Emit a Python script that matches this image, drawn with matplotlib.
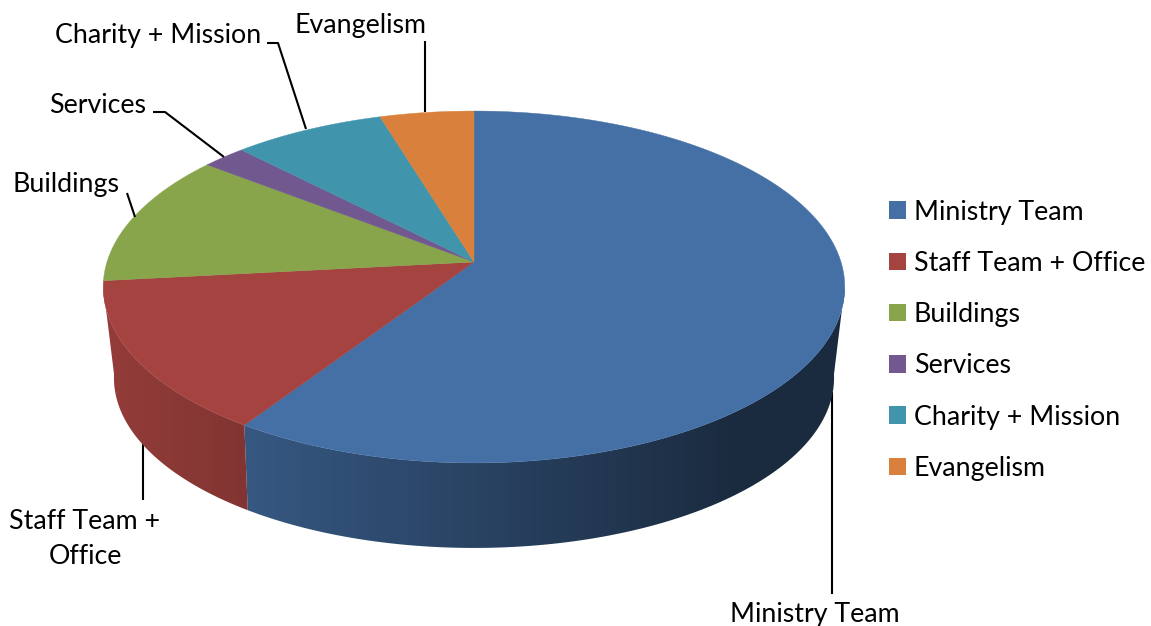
#!/usr/bin/env python
import numpy as np
import matplotlib
matplotlib.use('Agg')
import matplotlib.pyplot as plt
from matplotlib.patches import Patch

labels = ['Ministry Team', 'Staff Team + Office', 'Buildings', 'Services',
          'Charity + Mission', 'Evangelism']
values = [59.3, 14.0, 12.2, 2.2, 7.6, 4.7]
colors = ['#4570a5', '#a54340', '#88a54c', '#71588f', '#4095ad', '#d9803c']

plt.rcParams['font.family'] = ['Lato', 'DejaVu Sans']
FS = 19.3
W, H = 1151, 626


def project(ang, a, b, k, y0, cx=474):
    # clockwise angle from the top of the pie, perspective view of the disc
    u = np.sin(ang)
    v = np.cos(ang)
    return cx + a*u/(1 + k*v), y0 - b*v/(1 + k*v)


def top(ang):
    return project(ang, 367, 172.4, 0.142, 262)


def bottom(ang):
    return project(ang, 355.4, 165.6, 0.16, 350.8)


fig = plt.figure(figsize=(W/100, H/100), dpi=100)
ax = fig.add_axes([0, 0, 1, 1])
ax.set_xlim(0, W)
ax.set_ylim(H, 0)
ax.axis('off')

edges = np.deg2rad(np.concatenate([[0], np.cumsum(values)]) * 3.6)

# side wall of the two front slices, shaded left to right
# it runs between the two points where the rim turns back
xgrid = np.arange(0, W)
fade = np.clip(0.78 - 0.00081*(xgrid - 250), 0.39, 0.95)
wall_from, wall_to = np.deg2rad(98), np.deg2rad(262)
for i in range(2):
    ang = np.linspace(max(edges[i], wall_from), min(edges[i+1], wall_to), 200)
    xt, yt = top(ang)
    xb, yb = bottom(ang[::-1])
    poly = ax.fill(np.r_[xt, xb], np.r_[yt, yb], color='none', lw=0, zorder=2)[0]
    rgb = np.array(matplotlib.colors.to_rgb(colors[i]))
    shade = (fade[:, None] * rgb)[None, :, :]
    im = ax.imshow(shade, extent=(0, W, H, 0), aspect='auto', zorder=2, interpolation='bilinear')
    im.set_clip_path(poly)

# top face
handles = []
for i, color in enumerate(colors):
    ang = np.linspace(edges[i], edges[i+1], 200)
    x, y = top(ang)
    ax.fill(np.r_[474, x], np.r_[262, y], color=color, lw=0.3, zorder=3)
    handles.append(Patch(facecolor=color, edgecolor='none', label=labels[i]))

# leader lines
leaders = [
    ([832, 832], [392, 594]),
    ([143, 143], [438, 500]),
    ([127, 135], [193, 217]),
    ([153, 165, 224], [112, 112, 157]),
    ([267, 278, 306], [43, 43, 129]),
    ([425, 425], [41, 112]),
]
for lx, ly in leaders:
    ax.plot(lx, ly, color='black', lw=1.5, solid_capstyle='butt', zorder=1 if lx[0] in (832, 143) else 4)

ax.text(815, 614.5, 'Ministry Team', fontsize=FS, ha='center', va='center')
ax.text(85, 539, 'Staff Team +\nOffice', fontsize=FS, ha='center', va='center', linespacing=1.5)
ax.text(66, 184.5, 'Buildings', fontsize=FS, ha='center', va='center')
ax.text(98, 105.5, 'Services', fontsize=FS, ha='center', va='center')
ax.text(158, 35, 'Charity + Mission', fontsize=FS, ha='center', va='center')
ax.text(361, 25, 'Evangelism', fontsize=FS, ha='center', va='center')

px = FS*100/72
ax.legend(handles=handles, loc='upper left', bbox_to_anchor=(889/W, 1 - 199.5/H),
          frameon=False, fontsize=FS, handlelength=17/px, handleheight=17/px,
          handletextpad=8/px, labelspacing=(51.3 - px)/px + 0.067, borderpad=0, borderaxespad=0)

ax.set_xlim(0, W)
ax.set_ylim(H, 0)
fig.savefig('out.png', dpi=100)
